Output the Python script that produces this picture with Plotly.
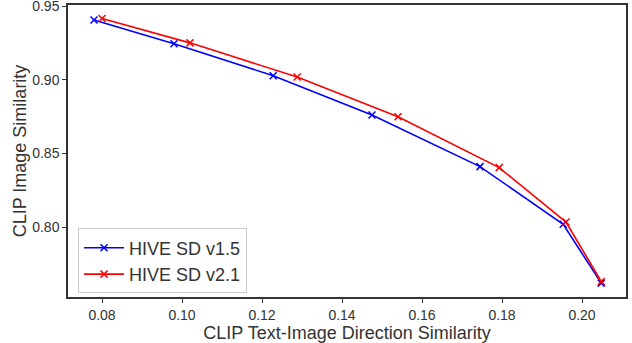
import plotly.graph_objects as go

x_v15 = [0.0780, 0.0980, 0.1228, 0.1475, 0.1745, 0.1953, 0.2048]
y_v15 = [0.9405, 0.9244, 0.9027, 0.8760, 0.8410, 0.8019, 0.7619]
x_v21 = [0.0800, 0.1020, 0.1288, 0.1540, 0.1793, 0.1960, 0.2048]
y_v21 = [0.9416, 0.9250, 0.9018, 0.8749, 0.8403, 0.8034, 0.7630]

x_ticks = [0.08, 0.10, 0.12, 0.14, 0.16, 0.18, 0.20]
y_ticks = [0.80, 0.85, 0.90, 0.95]

fig = go.Figure()
fig.add_trace(go.Scatter(x=x_v15, y=y_v15, mode="lines+markers", name="HIVE SD v1.5",
                         line=dict(color="blue", width=1.6),
                         marker=dict(symbol="x-thin", size=7, color="blue", line=dict(color="blue", width=1.5))))
fig.add_trace(go.Scatter(x=x_v21, y=y_v21, mode="lines+markers", name="HIVE SD v2.1",
                         line=dict(color="red", width=1.6),
                         marker=dict(symbol="x-thin", size=7, color="red", line=dict(color="red", width=1.5))))

axis_common = dict(showgrid=False, zeroline=False, showline=True, linecolor="#333", linewidth=1.5,
                   mirror=True, ticks="outside", ticklen=4, tickcolor="#333",
                   ticklabeloverflow="allow", automargin=False,
                   tickfont=dict(family="Liberation Sans, Arial", size=14, color="#333"))
fig.update_xaxes(range=[0.0715, 0.211], tickvals=x_ticks, ticktext=[f"{v:.2f}" for v in x_ticks],
                 title=dict(text="CLIP Text-Image Direction Similarity", standoff=6,
                            font=dict(family="Liberation Sans, Arial", size=18, color="#333")),
                 **axis_common)
fig.update_yaxes(range=[0.7525, 0.9507], tickvals=y_ticks, ticktext=[f"{v:.2f}" for v in y_ticks],
                 title=dict(text="CLIP Image Similarity", standoff=1,
                            font=dict(family="Liberation Sans, Arial", size=18, color="#333")),
                 **axis_common)
fig.update_layout(width=632, height=343, margin=dict(l=68, r=6, t=5, b=46),
                  plot_bgcolor="white", paper_bgcolor="white",
                  legend=dict(x=0.018, y=0.012, xanchor="left", yanchor="bottom", itemwidth=40,
                              bgcolor="rgba(255,255,255,0.8)", bordercolor="#ccc", borderwidth=1,
                              font=dict(family="Liberation Sans, Arial", size=18, color="#333")))
fig.write_html("out.html", config={"displayModeBar": False},
               post_script="document.body.style.margin='0';document.body.style.padding='0';")
